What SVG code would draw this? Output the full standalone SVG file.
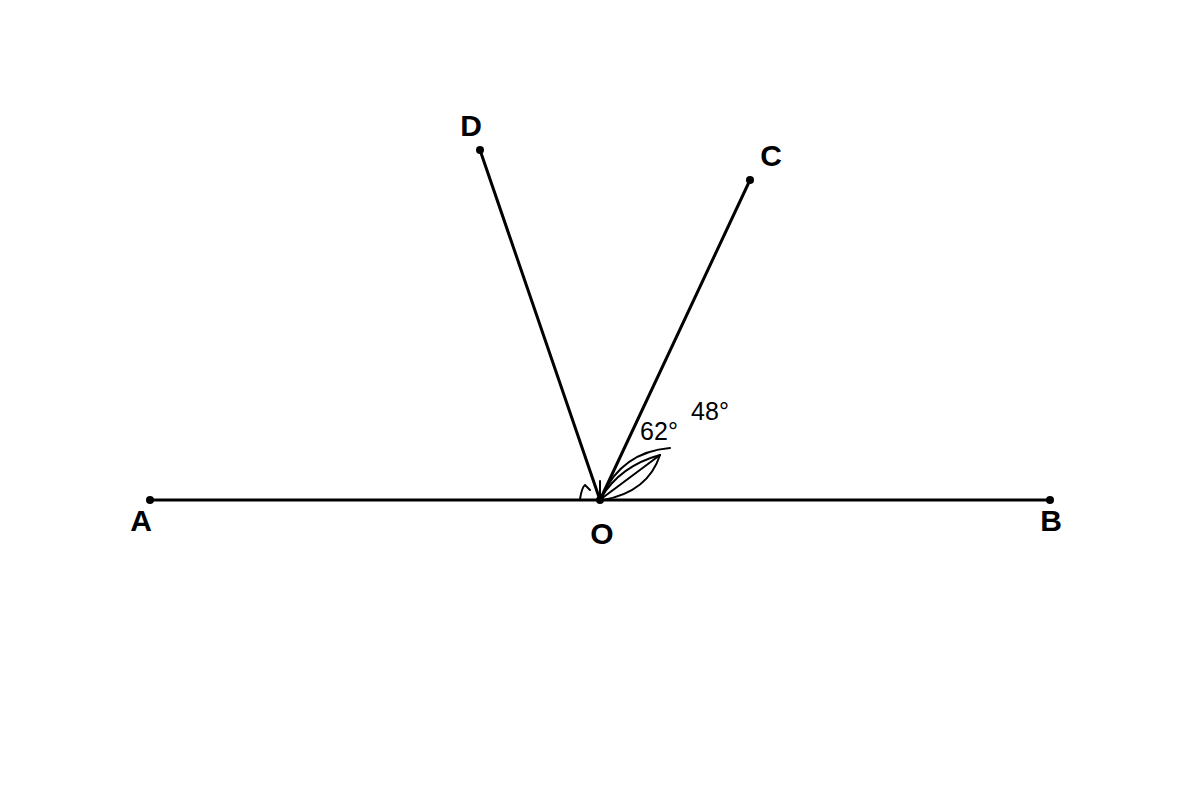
<svg xmlns="http://www.w3.org/2000/svg" width="1200" height="800" viewBox="0 0 1200 800">
<style>
.ln{stroke:#000;stroke-width:3;fill:none;stroke-linecap:round}
.th{stroke:#000;stroke-width:2;fill:none;stroke-linecap:round}
.pt{fill:#000}
.lb{font-family:"Liberation Sans",Arial,sans-serif;font-weight:bold;font-size:30px;fill:#000;text-anchor:middle}
.an{font-family:"Liberation Sans",Arial,sans-serif;font-size:25px;fill:#000;text-anchor:middle}
</style>
<rect width="1200" height="800" fill="#fff"/>
<g id="connectors">
<line class="ln" x1="150" y1="500" x2="1050" y2="500"/>
<line class="ln" x1="600" y1="500" x2="480" y2="150"/>
<line class="ln" x1="600" y1="500" x2="750" y2="180"/>
</g>
<g id="angle-marks">
<path class="th" d="M580,499 Q582,487 585,485 L590,490"/>
<line class="th" x1="600" y1="481" x2="600" y2="500"/>
<path class="th" d="M602,496 Q622,452 670,448"/>
<path class="th" d="M601,498 Q620,466 660,455"/>
<path class="th" d="M603,500 Q648,492 660,455"/>
<line class="th" x1="601" y1="499" x2="660" y2="455"/>
</g>
<g id="A"><circle class="pt" cx="150" cy="500" r="4"/><text class="lb" x="141" y="531">A</text></g>
<g id="B"><circle class="pt" cx="1050" cy="500" r="4"/><text class="lb" x="1051" y="531">B</text></g>
<g id="O"><circle class="pt" cx="600" cy="500" r="4"/><text class="lb" x="602" y="544">O</text></g>
<g id="C"><circle class="pt" cx="750" cy="180" r="4"/><text class="lb" x="771" y="166">C</text></g>
<g id="D"><circle class="pt" cx="480" cy="150" r="4"/><text class="lb" x="471" y="136">D</text></g>
<g id="labels">
<text class="an" x="659" y="440">62°</text>
<text class="an" x="710" y="420">48°</text>
</g>
</svg>
